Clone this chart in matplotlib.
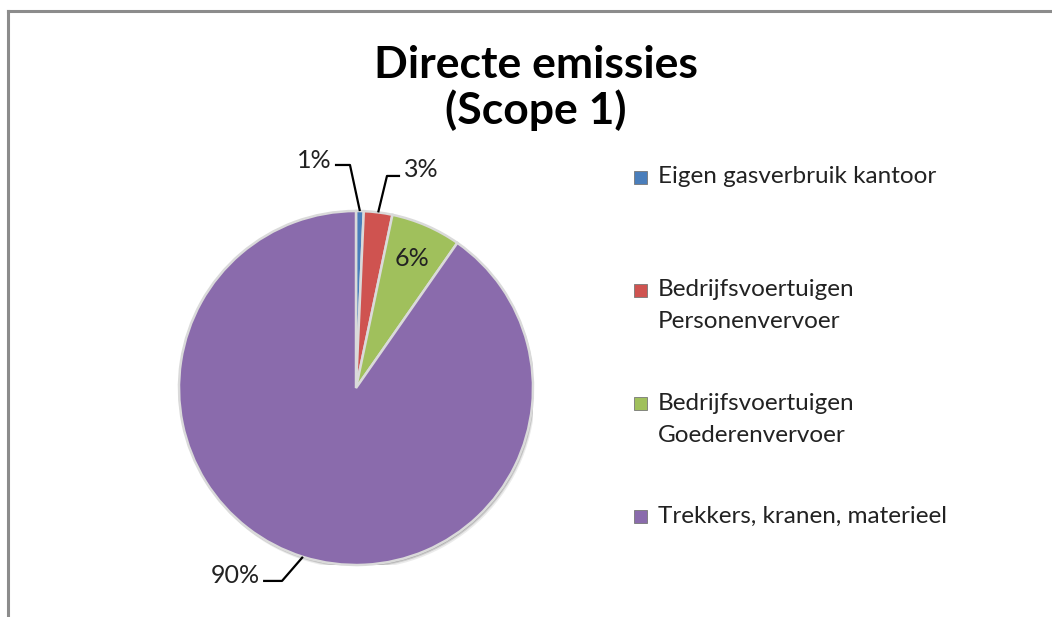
import numpy as np
import matplotlib.pyplot as plt
from matplotlib.patches import Rectangle, Circle

plt.rcParams['font.family'] = ['Lato', 'DejaVu Sans']

categories = ['Eigen gasverbruik kantoor',
              'Bedrijfsvoertuigen\nPersonenvervoer',
              'Bedrijfsvoertuigen\nGoederenvervoer',
              'Trekkers, kranen, materieel']
shares = [0.7, 2.6, 6.4, 90.3]
pct_labels = ['1%', '3%', '6%', '90%']
colors = ['#4A7EBB', '#CF5350', '#A0C05C', '#8A6BAC']

W, H = 1052, 617
fig = plt.figure(figsize=(W / 100, H / 100), dpi=100)

# chart frame (top and left edges visible)
fig.add_artist(plt.Line2D([8 / W, 8 / W], [0, 1 - 11 / H], transform=fig.transFigure,
                          color='#8c8c8c', lw=2.2))
fig.add_artist(plt.Line2D([8 / W, 1], [1 - 11 / H, 1 - 11 / H], transform=fig.transFigure,
                          color='#8c8c8c', lw=2.2))

# pie axes: centre at (356, 388) px, radius 177 px
cx, cy, r = 356, 388, 177
ax = fig.add_axes([(cx - r) / W, (H - cy - r) / H, 2 * r / W, 2 * r / H])
# soft shadow behind the pie
for off, a in [(0.022, 0.10), (0.014, 0.18), (0.008, 0.30)]:
    ax.add_patch(Circle((off * 0.6, -off), 1.0, facecolor='#404040', alpha=a,
                        edgecolor='none', zorder=0))
wedges, _ = ax.pie(shares, colors=colors, startangle=90, counterclock=False,
                   wedgeprops=dict(edgecolor='#dadada', linewidth=1.8, zorder=1))
ax.set_xlim(-1, 1)
ax.set_ylim(-1, 1)
ax.set_aspect('equal')
ax.axis('off')

# leader layout per outside label: (elbow x, elbow y, end x, text dy)
leaders = {'1%': (-0.034, 1.26, -0.119, 0.028),
           '3%': (0.175, 1.198, 0.249, 0.034),
           '90%': (-0.418, -1.09, -0.525, 0.028)}

for w, lab in zip(wedges, pct_labels):
    mid = np.deg2rad((w.theta1 + w.theta2) / 2)
    ex, ey = np.cos(mid), np.sin(mid)
    if lab not in leaders:
        ax.text(0.8 * ex, 0.8 * ey, lab, ha='center', va='center', fontsize=18, color='#222222')
        continue
    bx, by, endx, tdy = leaders[lab]
    ax.plot([ex, bx, endx], [ey, by, by], color='black', lw=1.6,
            clip_on=False, solid_capstyle='butt')
    ha = 'right' if endx < bx else 'left'
    dx = -0.02 if ha == 'right' else 0.02
    ax.text(endx + dx, by + tdy, lab, ha=ha, va='center', fontsize=18, color='#222222')

# title
fig.text(536 / W, 1 - 88 / H, 'Directe emissies\n(Scope 1)', ha='center', va='center',
         fontsize=32, fontweight='bold', linespacing=1.15)

# legend
leg_y = [177, 290, 403, 516]
for lab, col, y in zip(categories, colors, leg_y):
    fig.add_artist(Rectangle((634 / W, 1 - (y + 7) / H), 13 / W, 13 / H,
                             transform=fig.transFigure, facecolor=col, edgecolor='#777777', lw=0.6))
    for k, line in enumerate(lab.split('\n')):
        fig.text(658 / W, 1 - (y + 32 * k) / H, line, ha='left', va='center',
                 fontsize=17.5, color='#222222')

fig.savefig('out.png', dpi=100, facecolor='white')
